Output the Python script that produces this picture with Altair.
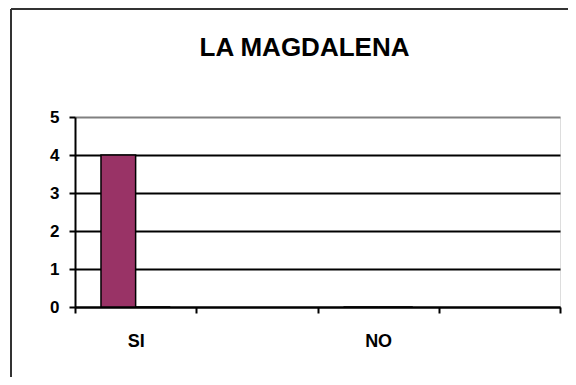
import altair as alt
import pandas as pd

title_text = "LA MAGDALENA"
categories = ["SI", "", "NO", " "]
series_names = ["Serie A", "Serie B"]
values_a = [4, 0]   # SI, NO
values_b = [0, 0]
data_cats = ["SI", "NO"]

rows = []
for i, c in enumerate(data_cats):
    rows.append({"cat": c, "series": series_names[0], "value": values_a[i]})
    rows.append({"cat": c, "series": series_names[1], "value": values_b[i]})
df = pd.DataFrame(rows)

W, H = 485, 190
PAD_L, PAD_T = 67, 109
FONT = "Liberation Sans"

bars = alt.Chart(df).mark_bar(stroke="black", strokeWidth=1.5, color="#993366").encode(
    x=alt.X("cat:N", sort=categories,
            scale=alt.Scale(domain=categories, paddingInner=0, paddingOuter=0),
            axis=alt.Axis(title=None, labelAngle=0, tickBand="extent", domainColor="black",
                          domainWidth=2, tickColor="black", tickWidth=2, tickSize=6,
                          labelFont=FONT, labelFontSize=18, labelFontWeight="bold",
                          labelColor="black", labelPadding=19, grid=False)),
    xOffset=alt.XOffset("series:N", sort=series_names,
                        scale=alt.Scale(domain=series_names, paddingInner=0, paddingOuter=0.75)),
    y=alt.Y("value:Q", scale=alt.Scale(domain=[0, 5], nice=False),
            axis=alt.Axis(title=None, values=[0, 1, 2, 3, 4, 5], format="d",
                          domainColor="black", domainWidth=2, tickColor="black",
                          tickWidth=2, tickSize=6,
                          labelFont=FONT, labelFontSize=17, labelFontWeight="bold",
                          labelColor="black", labelPadding=10,
                          grid=True, gridWidth=2,
                          gridColor=alt.condition("datum.value == 5", alt.value("#808080"), alt.value("black")))),
    fill=alt.value("#993366"),
)

border_left = alt.Chart(pd.DataFrame({"k": [0]})).mark_rule(color="#333333", strokeWidth=2).encode(
    x=alt.value(-64), y=alt.value(-108), y2=alt.value(H + 100)
)
border_top = alt.Chart(pd.DataFrame({"k": [0]})).mark_rule(color="#333333", strokeWidth=2).encode(
    x=alt.value(-64), x2=alt.value(W + 40), y=alt.value(-108)
)

chart = alt.layer(bars, border_left, border_top).properties(
    width=W, height=H,
    title=alt.TitleParams(title_text, font=FONT, fontSize=26, fontWeight="bold", color="black",
                          anchor="middle", dx=-13, offset=-53),
    autosize=alt.AutoSizeParams(type="none"),
    padding={"left": PAD_L, "top": PAD_T, "right": 8, "bottom": 70},
).configure_view(
    fill="#C0C0C0", stroke="#808080", strokeWidth=2.5
).configure(background="white")

chart.save("out.html", embed_options={"renderer": "svg", "actions": False})
